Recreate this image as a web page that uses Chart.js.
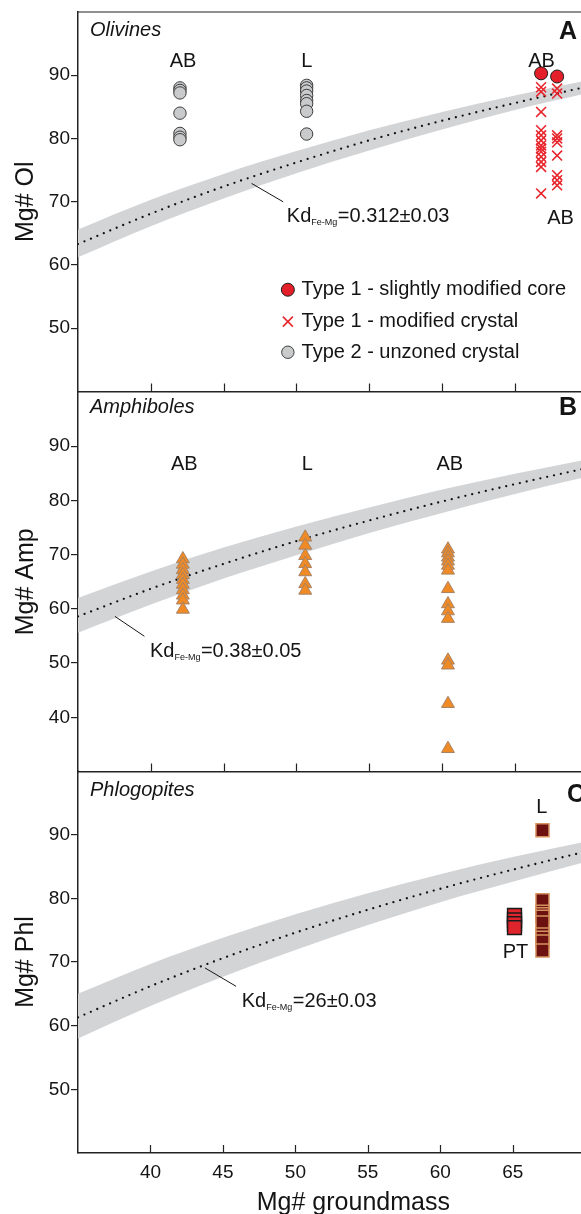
<!DOCTYPE html>
<html>
<head>
<meta charset="utf-8">
<script src="https://cdn.jsdelivr.net/npm/chart.js@4.4.1/dist/chart.umd.min.js"></script>
<style>
  html, body { margin: 0; padding: 0; background: #fff; overflow: hidden; width: 581px; height: 1214px; }
  canvas { position: absolute; left: 0; }
</style>
</head>
<body>
<canvas id="olChart" width="640" height="400" style="top:0px"></canvas>
<canvas id="ampChart" width="640" height="400" style="top:380px"></canvas>
<canvas id="phlChart" width="640" height="461" style="top:759px"></canvas>
<script>
// ticks
const xTicks = [40, 45, 50, 55, 60, 65];
const olTicks = [50, 60, 70, 80, 90];
const ampTicks = [40, 50, 60, 70, 80, 90];
const phlTicks = [50, 60, 70, 80, 90];

// equilibrium curves (centre line + band edges)
const curveX = [35, 40, 45, 50, 55, 60, 65, 70, 75];
const olKd = [63.3, 68.1, 72.4, 76.2, 79.7, 82.8, 85.6, 88.2, 90.6];
const olKdHigh = [65.6, 70.3, 74.4, 78.0, 81.3, 84.2, 86.8, 89.2, 91.4];
const olKdLow = [61.2, 66.1, 70.5, 74.5, 78.1, 81.4, 84.5, 87.2, 89.8];
const ampKd = [58.6, 63.7, 68.3, 72.5, 76.3, 79.8, 83.0, 86.0, 88.8];
const ampKdHigh = [62.0, 66.9, 71.3, 75.2, 78.7, 82.0, 84.9, 87.6, 90.1];
const ampKdLow = [55.6, 60.8, 65.6, 69.9, 74.0, 77.7, 81.2, 84.4, 87.5];
const phlKd = [61.3, 66.2, 70.6, 74.6, 78.2, 81.5, 84.5, 87.3, 89.8];
const phlKdHigh = [65.0, 69.7, 73.8, 77.5, 80.8, 83.8, 86.5, 88.9, 91.2];
const phlKdLow = [58.0, 63.1, 67.7, 71.9, 75.8, 79.4, 82.6, 85.7, 88.5];

// olivines
const olCoreX = [66.8, 67.9];
const olCore = [90.3, 89.8];
const olModX1 = 66.8;
const olMod1 = [88.1, 87.4, 84.2, 81.3, 80.5, 79.7, 78.9, 78.4, 77.9, 77.1, 76.3, 75.5, 71.3];
const olModX2 = 67.9;
const olMod2 = [87.9, 87.1, 80.5, 80.0, 79.4, 77.3, 74.2, 73.4, 72.6];
const olUnzABx = 42.0;
const olUnzAB = [88.0, 87.6, 87.2, 84.0, 80.8, 80.2, 79.8];
const olUnzLx = 50.7;
const olUnzL = [88.4, 88.0, 87.5, 86.8, 86.0, 85.5, 84.3, 80.7];

// amphiboles
const ampABx = 42.2;
const ampAB = [69.2, 68.2, 67.2, 66.3, 65.4, 64.5, 63.5, 62.5, 61.6, 59.9];
const ampLx = 50.6;
const ampL = [73.2, 71.7, 69.8, 68.3, 66.8, 64.6, 63.4];
const ampAB2x = 60.4;
const ampAB2 = [71.0, 70.3, 69.5, 68.8, 68.0, 67.1, 63.7, 60.9, 59.6, 58.2, 50.5, 49.6, 42.5, 34.2];

// phlogopites
const phlLx = 67.05;
const phlL = [90.7, 79.7, 77.9, 77.5, 77.1, 76.2, 74.3, 73.8, 73.2, 71.8];
const phlPTx = 65.12;
const phlPT = [77.3, 76.6, 76.0, 75.4];

const fontFamily = '"Liberation Sans", Arial, Helvetica, sans-serif';
const ink = '#141414';
const axisColor = '#232323';
const bandColor = '#d3d4d6';

function pts(x, ys) { return ys.map(y => ({ x: x, y: y })); }
function curve(ys) { return curveX.map((x, i) => ({ x: x, y: ys[i] })); }

function bandSets(mid, hi, lo) {
  return [
    { type: 'line', data: curve(mid), borderColor: '#111', borderWidth: 2.3, borderDash: [0, 7],
      borderCapStyle: 'round', pointRadius: 0, fill: false, cubicInterpolationMode: 'monotone' },
    { type: 'line', data: curve(hi), borderWidth: 0, borderColor: 'rgba(0,0,0,0)', pointRadius: 0,
      backgroundColor: bandColor, fill: '+1', cubicInterpolationMode: 'monotone' },
    { type: 'line', data: curve(lo), borderWidth: 0, borderColor: 'rgba(0,0,0,0)', pointRadius: 0,
      fill: false, cubicInterpolationMode: 'monotone' }
  ];
}

function drawKd(ctx, x, y, rest) {
  ctx.textAlign = 'left';
  ctx.textBaseline = 'middle';
  ctx.font = '20px ' + fontFamily;
  ctx.fillText('Kd', x, y);
  let w = ctx.measureText('Kd').width;
  ctx.font = '9px ' + fontFamily;
  ctx.fillText('Fe-Mg', x + w, y + 6);
  w += ctx.measureText('Fe-Mg').width + 0.5;
  ctx.font = '20px ' + fontFamily;
  ctx.fillText(rest, x + w, y);
}

const panelDecor = {
  id: 'panelDecor',
  afterDraw(chart, args, o) {
    const ctx = chart.ctx, a = chart.chartArea, xs = chart.scales.x, ys = chart.scales.y;
    ctx.save();
    ctx.strokeStyle = axisColor;
    ctx.lineWidth = 1.2;
    ctx.beginPath();
    xTicks.forEach(v => {
      const px = Math.round(xs.getPixelForValue(v)) + 0.5;
      ctx.moveTo(px, a.bottom);
      ctx.lineTo(px, a.bottom - 8);
    });
    if (o.topLine) {
      ctx.moveTo(a.left, a.top);
      ctx.lineTo(a.right, a.top);
    }
    ctx.stroke();

    // leader line to the curve
    ctx.strokeStyle = ink;
    ctx.lineWidth = 1;
    ctx.beginPath();
    ctx.moveTo(xs.getPixelForValue(o.leader[0]), ys.getPixelForValue(o.leader[1]));
    ctx.lineTo(xs.getPixelForValue(o.leader[2]), ys.getPixelForValue(o.leader[3]));
    ctx.stroke();

    ctx.fillStyle = ink;
    ctx.textBaseline = 'middle';
    ctx.textAlign = 'left';
    ctx.font = 'italic 20px ' + fontFamily;
    ctx.fillText(o.name, a.left + 12, a.top + o.nameDy);
    ctx.font = 'bold 25px ' + fontFamily;
    ctx.fillText(o.letter, a.left + o.letterDx, a.top + o.letterDy);

    ctx.font = '20px ' + fontFamily;
    ctx.textAlign = 'center';
    o.labels.forEach(l => ctx.fillText(l.text, xs.getPixelForValue(l.x), ys.getPixelForValue(l.y)));

    drawKd(ctx, xs.getPixelForValue(o.kd.x), ys.getPixelForValue(o.kd.y), o.kd.text);

    if (o.legend) {
      const lx = xs.getPixelForValue(o.legend.x);
      const tx = xs.getPixelForValue(o.legend.textX);
      o.legend.items.forEach(it => {
        const py = ys.getPixelForValue(it.y);
        if (it.style === 'circle') {
          ctx.beginPath();
          ctx.arc(lx, py, it.r, 0, Math.PI * 2);
          ctx.fillStyle = it.fill;
          ctx.fill();
          ctx.strokeStyle = it.stroke;
          ctx.lineWidth = 1;
          ctx.stroke();
        } else {
          ctx.beginPath();
          ctx.moveTo(lx - 5, py - 5); ctx.lineTo(lx + 5, py + 5);
          ctx.moveTo(lx + 5, py - 5); ctx.lineTo(lx - 5, py + 5);
          ctx.strokeStyle = it.stroke;
          ctx.lineWidth = 1.6;
          ctx.stroke();
        }
        ctx.fillStyle = ink;
        ctx.textAlign = 'left';
        ctx.font = '20px ' + fontFamily;
        ctx.fillText(it.text, tx, py);
      });
    }
    ctx.restore();
  }
};

function makeChart(id, c) {
  return new Chart(document.getElementById(id), {
    type: 'scatter',
    data: { datasets: c.datasets },
    options: {
      responsive: false,
      animation: false,
      events: [],
      layout: { padding: { top: 12, left: 0, right: 8.3, bottom: c.showX ? 0 : 8 } },
      plugins: { legend: { display: false }, tooltip: { enabled: false }, panelDecor: c.decor },
      scales: {
        x: {
          type: 'linear', min: 35, max: 73,
          afterBuildTicks: s => { s.ticks = xTicks.map(v => ({ value: v })); },
          afterFit: s => { s.height = c.showX ? 67 : 0; s.paddingLeft = 0; s.paddingRight = 0; },
          grid: { drawOnChartArea: false, drawTicks: false },
          border: { display: true, color: axisColor, width: 1.5 },
          ticks: { display: c.showX, color: ink, padding: 8, font: { family: fontFamily, size: 19 } },
          title: { display: c.showX, text: 'Mg# groundmass', color: ink,
                   font: { family: fontFamily, size: 25 }, padding: { top: 0, bottom: 2 } }
        },
        y: {
          type: 'linear', min: c.yMin, max: c.yMax,
          afterBuildTicks: s => { s.ticks = c.yTicks.map(v => ({ value: v })); },
          afterFit: s => { s.width = 78; s.paddingTop = 0; s.paddingBottom = 0; },
          grid: { drawOnChartArea: false, drawTicks: true, tickLength: 7, color: axisColor, lineWidth: 1.2 },
          border: { display: true, color: axisColor, width: 1.5 },
          ticks: { color: ink, padding: 1, font: { family: fontFamily, size: 19 } },
          title: { display: true, text: c.yTitle, color: ink,
                   font: { family: fontFamily, size: 25 }, padding: { top: 11, bottom: 0 } }
        }
      }
    },
    plugins: [panelDecor]
  });
}

makeChart('olChart', {
  yMin: 40, yMax: 100, yTicks: olTicks, yTitle: 'Mg# Ol', showX: false,
  datasets: [
    { data: olCoreX.map((x, i) => ({ x: x, y: olCore[i] })), pointStyle: 'circle', pointRadius: 6.5,
      pointBackgroundColor: '#e3202a', pointBorderColor: '#1a1a1a', pointBorderWidth: 1 },
    { data: pts(olModX1, olMod1).concat(pts(olModX2, olMod2)), pointStyle: 'crossRot', pointRadius: 7,
      pointBorderColor: '#e8262d', pointBorderWidth: 1.6 },
    { data: pts(olUnzABx, olUnzAB).concat(pts(olUnzLx, olUnzL)), pointStyle: 'circle', pointRadius: 6.2,
      pointBackgroundColor: '#c9cacc', pointBorderColor: '#3c3c3c', pointBorderWidth: 1 }
  ].concat(bandSets(olKd, olKdHigh, olKdLow)),
  decor: {
    topLine: true, name: 'Olivines', nameDy: 18, letter: 'A', letterDx: 481, letterDy: 20,
    labels: [
      { text: 'AB', x: 42.21, y: 92.2 }, { text: 'L', x: 50.72, y: 92.2 },
      { text: 'AB', x: 66.83, y: 92.1 }, { text: 'AB', x: 68.13, y: 67.36 }
    ],
    kd: { x: 49.34, y: 67.6, text: '=0.312±0.03' },
    leader: [46.92, 72.89, 49.09, 69.98],
    legend: {
      x: 49.41, textX: 50.35,
      items: [
        { style: 'circle', r: 6.5, fill: '#e3202a', stroke: '#1a1a1a', text: 'Type 1 - slightly modified core', y: 56.08 },
        { style: 'cross', stroke: '#e8262d', text: 'Type 1 - modified crystal', y: 51.03 },
        { style: 'circle', r: 6.2, fill: '#c9cacc', stroke: '#3c3c3c', text: 'Type 2 - unzoned crystal', y: 46.19 }
      ]
    }
  }
});

makeChart('ampChart', {
  yMin: 30, yMax: 100, yTicks: ampTicks, yTitle: 'Mg# Amp', showX: false,
  datasets: [
    { data: pts(ampABx, ampAB).concat(pts(ampLx, ampL), pts(ampAB2x, ampAB2)), pointStyle: 'triangle',
      pointRadius: 7.5, pointBackgroundColor: '#ef8a25', pointBorderColor: '#a88366', pointBorderWidth: 1 }
  ].concat(bandSets(ampKd, ampKdHigh, ampKdLow)),
  decor: {
    topLine: false, name: 'Amphiboles', nameDy: 15, letter: 'B', letterDx: 481, letterDy: 16,
    labels: [
      { text: 'AB', x: 42.30, y: 86.56 }, { text: 'L', x: 50.74, y: 86.56 }, { text: 'AB', x: 60.53, y: 86.56 }
    ],
    kd: { x: 39.94, y: 52.17, text: '=0.38±0.05' },
    leader: [37.53, 58.62, 39.56, 54.94]
  }
});

makeChart('phlChart', {
  yMin: 40, yMax: 100, yTicks: phlTicks, yTitle: 'Mg# Phl', showX: true,
  datasets: [
    { data: pts(phlPTx, phlPT), pointStyle: 'rect', pointRadius: 9.8,
      pointBackgroundColor: '#e0242c', pointBorderColor: '#1a1a1a', pointBorderWidth: 1.5 },
    { data: pts(phlLx, phlL), pointStyle: 'rect', pointRadius: 9.2,
      pointBackgroundColor: '#6d1010', pointBorderColor: '#d4925f', pointBorderWidth: 1.5 }
  ].concat(bandSets(phlKd, phlKdHigh, phlKdLow)),
  decor: {
    topLine: false, name: 'Phlogopites', nameDy: 19, letter: 'C', letterDx: 489, letterDy: 24,
    labels: [
      { text: 'L', x: 67.01, y: 94.24 }, { text: 'PT', x: 65.19, y: 71.52 }
    ],
    kd: { x: 46.30, y: 63.83, text: '=26±0.03' },
    leader: [43.76, 69.07, 45.91, 66.18]
  }
});
</script>
</body>
</html>
